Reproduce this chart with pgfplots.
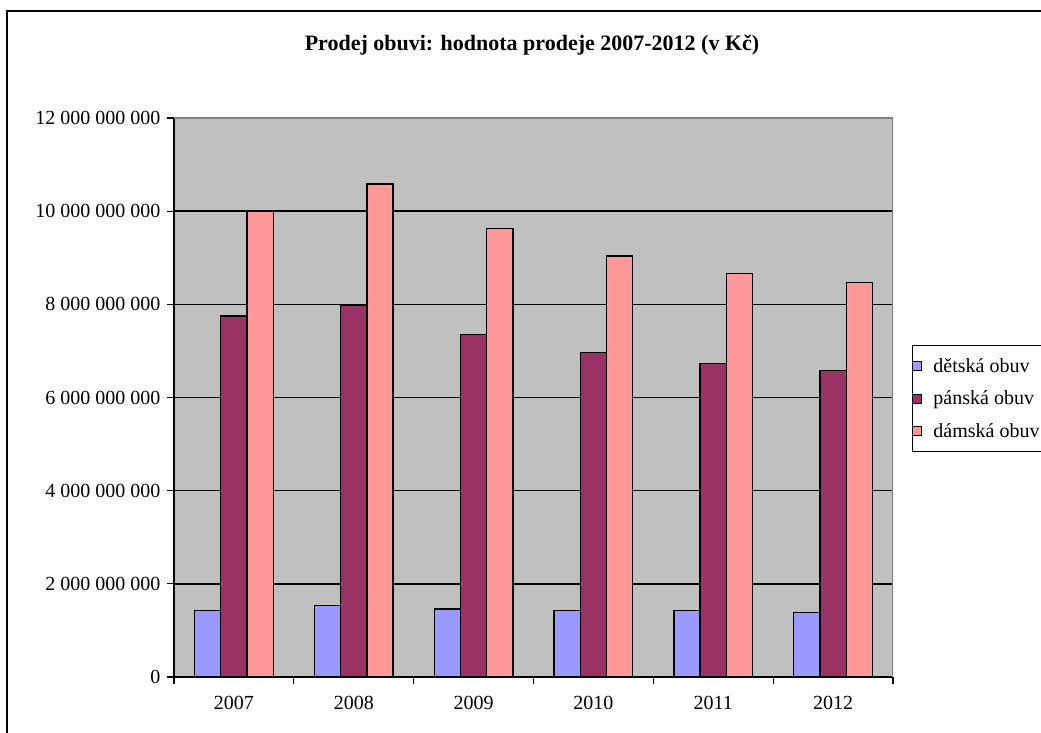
\documentclass[border=0pt]{standalone}
\usepackage{fontspec}
\setmainfont{Liberation Serif}
\usepackage{pgfplots}
\pgfplotsset{compat=1.18}
\definecolor{kids}{RGB}{153,153,255}
\definecolor{men}{RGB}{153,51,102}
\definecolor{women}{RGB}{255,153,153}
\definecolor{plotbg}{RGB}{192,192,192}
\definecolor{frameg}{RGB}{128,128,128}
\begin{document}
\begin{tikzpicture}[x=1pt,y=1pt]
\begin{axis}[
  at={(174pt,56pt)}, anchor=south west,
  scale only axis, width=719pt, height=559pt,
  ybar=0pt, bar width=0.219,
  xmin=-0.5, xmax=5.5, ymin=0, ymax=12000000000,
  scaled y ticks=false,
  xtick={0,1,2,3,4,5},
  xticklabels={2007,2008,2009,2010,2011,2012},
  minor xtick={-0.5,0.5,1.5,2.5,3.5,4.5,5.5},
  major x tick style={draw=none},
  ytick={0,2000000000,4000000000,6000000000,8000000000,10000000000,12000000000},
  yticklabels={0,2 000 000 000,4 000 000 000,6 000 000 000,8 000 000 000,10 000 000 000,12 000 000 000},
  tick align=outside, major tick length=7pt, minor tick length=7pt,
  ymajorgrids, grid style={black,line width=1.5pt},
  axis x line*=bottom, axis y line*=left,
  axis line style={black,line width=1.5pt,-},
  tick style={black,line width=1.3pt},
  axis background/.style={fill=plotbg},
  every tick label/.append style={font=\fontsize{20}{24}\selectfont},
  yticklabel style={xshift=-3pt},
  xticklabel style={yshift=-9pt},
  /pgf/number format/assume math mode=true,
  legend style={at={(1.0264,0.594)}, anchor=north west, draw=black, line width=1pt,
    fill=white, font=\fontsize{20}{24}\selectfont, row sep=13pt, column sep=9pt,
    inner xsep=0pt, inner ysep=11pt, cells={anchor=west}},
  legend image code/.code={\draw[#1,draw=black,line width=1pt] (0pt,-4.5pt) rectangle (9pt,4.5pt);},
]
\addplot[fill=kids, draw=black, line width=1.3pt] coordinates
  {(0,1420000000) (1,1540000000) (2,1460000000) (3,1420000000) (4,1420000000) (5,1390000000)};
\addlegendentry{dětská obuv}
\addplot[fill=men, draw=black, line width=1.3pt] coordinates
  {(0,7750000000) (1,7980000000) (2,7350000000) (3,6960000000) (4,6730000000) (5,6580000000)};
\addlegendentry{pánská obuv}
\addplot[fill=women, draw=black, line width=1.3pt] coordinates
  {(0,10000000000) (1,10580000000) (2,9630000000) (3,9040000000) (4,8660000000) (5,8470000000)};
\addlegendentry{dámská obuv}
% plot-area border on the top and right sides
\draw[frameg, line width=1.5pt] (rel axis cs:0,1) -- (rel axis cs:1,1) -- (rel axis cs:1,0);
\end{axis}
\node[font=\bfseries\fontsize{22}{26}\selectfont] at (532pt,688pt)
  {Prodej obuvi: hodnota prodeje 2007-2012 (v Kč)};
% chart-area frame
\draw[line width=2pt] (7pt,-10pt) -- (7pt,722pt) -- (1060pt,722pt);
\pgfresetboundingbox
\useasboundingbox (0,0) rectangle (1041pt,733pt);
\end{tikzpicture}
\end{document}
